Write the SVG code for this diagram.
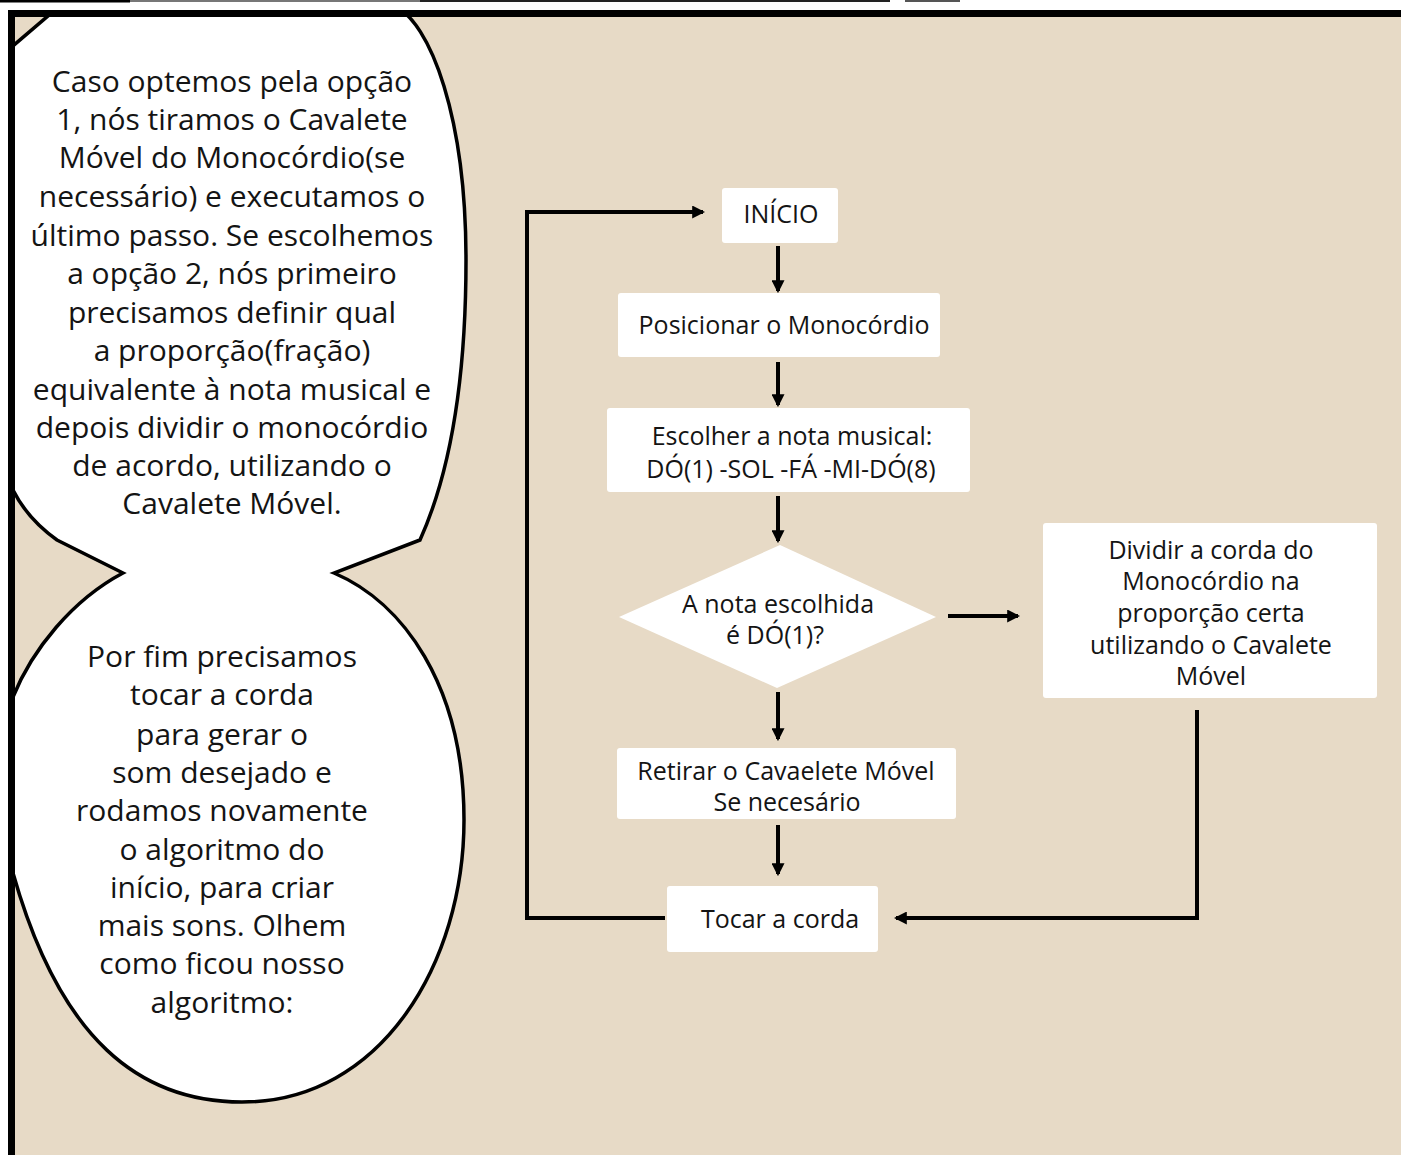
<svg xmlns="http://www.w3.org/2000/svg" width="1401" height="1155" viewBox="0 0 1401 1155">
  <defs>
    <style>
      .box { fill: #ffffff; }
      .t { font-family: "Open Sans", "DejaVu Sans", sans-serif; fill: #141414; text-anchor: middle; }
      .fc { font-size: 25px; }
      .bub { font-size: 30px; }
      .conn { fill: none; stroke: #000000; stroke-width: 4; stroke-linejoin: miter; }
    </style>
    <marker id="ah" viewBox="0 0 12 12" refX="10" refY="6" markerWidth="13" markerHeight="13" markerUnits="userSpaceOnUse" orient="auto">
      <path d="M0,0 L12,6 L0,12 Z" fill="#000000"/>
    </marker>
    <clipPath id="panel">
      <rect x="8" y="10" width="1393" height="1145"/>
    </clipPath>
  </defs>

  <!-- page background -->
  <rect x="0" y="0" width="1401" height="1155" fill="#ffffff"/>
  <g id="top-strip">
    <line x1="0" y1="1" x2="130" y2="1" stroke="#000" stroke-width="3"/>
    <line x1="130" y1="1" x2="420" y2="1" stroke="#777" stroke-width="2"/>
    <line x1="420" y1="1" x2="890" y2="1" stroke="#222" stroke-width="2"/>
    <line x1="905" y1="1" x2="960" y2="1" stroke="#555" stroke-width="2"/>
  </g>

  <!-- panel -->
  <rect x="8" y="10" width="1393" height="1145" fill="#e7dac6"/>

  <!-- speech bubbles -->
  <g id="bubbles" clip-path="url(#panel)">
    <path d="M 62,4 L 392,4 C 432,22 466,120 466,260 C 466,390 447,480 420,540 L 334,573 C 402,602 464,684 464,820 C 464,962 382,1102 242,1102 C 140,1102 60,1040 13,873 L -10,873 L -10,700 L 13,697 C 32,650 72,600 123,573 L 57,540 C 36,525 22,508 13,490 L -10,490 L -10,57 L 0,57 Z" fill="#ffffff" stroke="#000000" stroke-width="3.5" stroke-linejoin="miter"/>
  </g>

  <!-- panel borders -->
  <rect x="8" y="10" width="1393" height="7" fill="#000000"/>
  <rect x="8" y="10" width="7" height="1145" fill="#000000"/>

  <g id="bubble-top-text" class="t bub">
    <text x="232" y="92">Caso optemos pela opção</text>
    <text x="232" y="130">1, nós tiramos o Cavalete</text>
    <text x="232" y="168">Móvel do Monocórdio(se</text>
    <text x="232" y="207">necessário) e executamos o</text>
    <text x="232" y="246">último passo. Se escolhemos</text>
    <text x="232" y="284">a opção 2, nós primeiro</text>
    <text x="232" y="323">precisamos definir qual</text>
    <text x="232" y="361">a proporção(fração)</text>
    <text x="232" y="400">equivalente à nota musical e</text>
    <text x="232" y="438">depois dividir o monocórdio</text>
    <text x="232" y="476">de acordo, utilizando o</text>
    <text x="232" y="514">Cavalete Móvel.</text>
  </g>

  <g id="bubble-bottom-text" class="t bub">
    <text x="222" y="667">Por fim precisamos</text>
    <text x="222" y="705">tocar a corda</text>
    <text x="222" y="745">para gerar o</text>
    <text x="222" y="783">som desejado e</text>
    <text x="222" y="821">rodamos novamente</text>
    <text x="222" y="860">o algoritmo do</text>
    <text x="222" y="898">início, para criar</text>
    <text x="222" y="936">mais sons. Olhem</text>
    <text x="222" y="974">como ficou nosso</text>
    <text x="222" y="1013">algoritmo:</text>
  </g>

  <!-- connectors -->
  <g id="connectors">
    <line class="conn" x1="778" y1="246" x2="778" y2="291" marker-end="url(#ah)"/>
    <line class="conn" x1="778" y1="362" x2="778" y2="405" marker-end="url(#ah)"/>
    <line class="conn" x1="778" y1="496" x2="778" y2="541" marker-end="url(#ah)"/>
    <line class="conn" x1="948" y1="616" x2="1018" y2="616" marker-end="url(#ah)"/>
    <line class="conn" x1="778" y1="692" x2="778" y2="739" marker-end="url(#ah)"/>
    <line class="conn" x1="778" y1="825" x2="778" y2="874" marker-end="url(#ah)"/>
    <polyline class="conn" points="1197,710 1197,918 896,918" marker-end="url(#ah)"/>
    <polyline class="conn" points="665,918 527,918 527,212 703,212" marker-end="url(#ah)"/>
  </g>

  <!-- nodes -->
  <g id="node-inicio">
    <rect class="box" x="722" y="188" width="116" height="55" rx="3"/>
    <text class="t fc" x="781" y="223">INÍCIO</text>
  </g>
  <g id="node-posicionar">
    <rect class="box" x="618" y="293" width="322" height="64" rx="3"/>
    <text class="t fc" x="784" y="334">Posicionar o Monocórdio</text>
  </g>
  <g id="node-escolher">
    <rect class="box" x="607" y="408" width="363" height="84" rx="3"/>
    <text class="t fc" x="792" y="445">Escolher a nota musical:</text>
    <text class="t fc" x="791" y="478">DÓ(1) -SOL -FÁ -MI-DÓ(8)</text>
  </g>
  <g id="node-decisao">
    <polygon class="box" points="780,545 936,617 777,688 619,617"/>
    <text class="t fc" x="778" y="613">A nota escolhida</text>
    <text class="t fc" x="775" y="644">é DÓ(1)?</text>
  </g>
  <g id="node-dividir">
    <rect class="box" x="1043" y="523" width="334" height="175" rx="3"/>
    <text class="t fc" x="1211" y="559">Dividir a corda do</text>
    <text class="t fc" x="1211" y="590">Monocórdio na</text>
    <text class="t fc" x="1211" y="622">proporção certa</text>
    <text class="t fc" x="1211" y="654">utilizando o Cavalete</text>
    <text class="t fc" x="1211" y="685">Móvel</text>
  </g>
  <g id="node-retirar">
    <rect class="box" x="617" y="748" width="339" height="71" rx="3"/>
    <text class="t fc" x="786" y="780">Retirar o Cavaelete Móvel</text>
    <text class="t fc" x="787" y="811">Se necesário</text>
  </g>
  <g id="node-tocar">
    <rect class="box" x="667" y="886" width="211" height="66" rx="3"/>
    <text class="t fc" x="780" y="928">Tocar a corda</text>
  </g>
</svg>
